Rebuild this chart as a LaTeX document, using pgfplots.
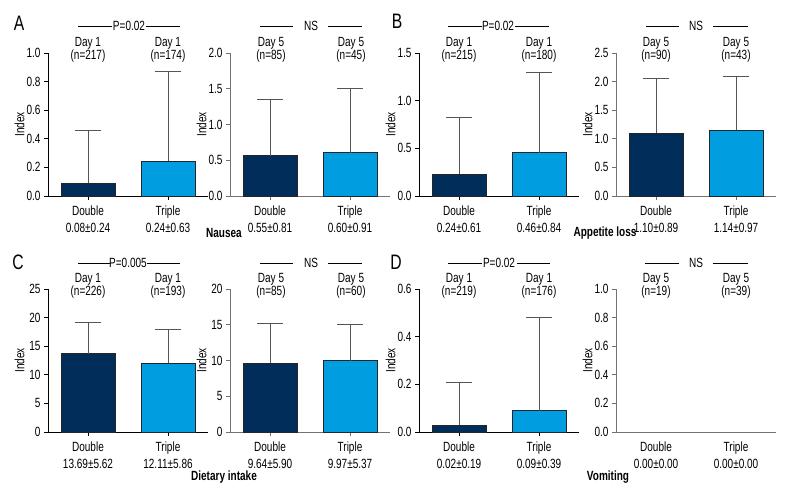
\documentclass[border=0pt]{standalone}
\usepackage{fontspec}
\setmainfont{Liberation Sans}[FakeStretch=0.75]
\usepackage{pgfplots}
\pgfplotsset{compat=1.18}

\definecolor{navy}{RGB}{0,45,90}
\definecolor{sky}{RGB}{0,158,224}
\definecolor{errc}{RGB}{85,85,85}
\newcommand\fs{\fontsize{13.4}{17.5}\selectfont}

\pgfplotsset{
  panel/.style={
    scale only axis, width=160bp, height=143bp,
    xmin=-0.5, xmax=1.5, ymin=0,
    xtick={0,1}, axis lines*=left,
    axis line style={-, line width=0.7pt, #1},
    tick style={line width=0.7pt, #1},
    tick align=outside, major tick length=4bp,
    clip=false,
    ylabel={Index},
    ylabel style={font=\fs, at={(axis description cs:-0.125,0.5)}, anchor=south},
    yticklabel style={font=\fs},
    xticklabel style={font=\fs, align=center, yshift=-2bp},
    /pgf/number format/assume math mode=true,
    /pgf/number format/.cd, fixed, fixed zerofill, precision=1,
  },
  panel/.default={black},
  bar/.style={ybar, bar width=54bp, bar shift=0pt, fill=#1, draw=black!85, line width=0.5pt,
    error bars/.cd, y dir=plus, y explicit,
    error bar style={line width=0.7pt, color=errc},
    error mark options={rotate=90, mark size=13bp, line width=0.7pt, color=errc}},
}

\begin{document}
\begin{tikzpicture}[x=1bp, y=1bp]
\useasboundingbox (0,0) rectangle (792,504);

% ---------- A ----------
\begin{axis}[panel, at={(48bp,308bp)}, anchor=south west, ymax=1.0, ytick={0,0.2,...,1.0},
  xticklabels={{Double\\0.08±0.24},{Triple\\0.24±0.63}}]
\addplot[bar=navy] coordinates {(0,0.09) +- (0,0.37)};
\addplot[bar=sky] coordinates {(1,0.245) +- (0,0.625)};
\end{axis}
\begin{axis}[panel=black!55, at={(230bp,308bp)}, anchor=south west, ymax=2.0, ytick={0,0.5,...,2.0},
  xticklabels={{Double\\0.55±0.81},{Triple\\0.60±0.91}}]
\addplot[bar=navy] coordinates {(0,0.565) +- (0,0.785)};
\addplot[bar=sky] coordinates {(1,0.605) +- (0,0.895)};
\end{axis}

% ---------- B ----------
\begin{axis}[panel, at={(419bp,308bp)}, anchor=south west, ymax=1.5, ytick={0,0.5,...,1.5},
  xticklabels={{Double\\0.24±0.61},{Triple\\0.46±0.84}}]
\addplot[bar=navy] coordinates {(0,0.23) +- (0,0.60)};
\addplot[bar=sky] coordinates {(1,0.455) +- (0,0.845)};
\end{axis}
\begin{axis}[panel=black!55, at={(616bp,308bp)}, anchor=south west, ymax=2.5, ytick={0,0.5,...,2.5},
  xticklabels={{Double\\1.10±0.89},{Triple\\1.14±0.97}}]
\addplot[bar=navy] coordinates {(0,1.10) +- (0,0.95)};
\addplot[bar=sky] coordinates {(1,1.15) +- (0,0.95)};
\end{axis}

% ---------- C ----------
\begin{axis}[panel, at={(48bp,72bp)}, anchor=south west, ymax=25, ytick={0,5,...,25},
  yticklabel style={/pgf/number format/precision=0},
  xticklabels={{Double\\13.69±5.62},{Triple\\12.11±5.86}}]
\addplot[bar=navy] coordinates {(0,13.7) +- (0,5.4)};
\addplot[bar=sky] coordinates {(1,12.1) +- (0,5.8)};
\end{axis}
\begin{axis}[panel=black!55, at={(230bp,72bp)}, anchor=south west, ymax=20, ytick={0,5,...,20},
  yticklabel style={/pgf/number format/precision=0},
  xticklabels={{Double\\9.64±5.90},{Triple\\9.97±5.37}}]
\addplot[bar=navy] coordinates {(0,9.64) +- (0,5.56)};
\addplot[bar=sky] coordinates {(1,9.97) +- (0,5.03)};
\end{axis}

% ---------- D ----------
\begin{axis}[panel, at={(419bp,72bp)}, anchor=south west, ymax=0.6, ytick={0,0.2,...,0.6},
  xticklabels={{Double\\0.02±0.19},{Triple\\0.09±0.39}}]
\addplot[bar=navy] coordinates {(0,0.03) +- (0,0.18)};
\addplot[bar=sky] coordinates {(1,0.09) +- (0,0.39)};
\end{axis}
\begin{axis}[panel=black!55, at={(616bp,72bp)}, anchor=south west, ymax=1.0, ytick={0,0.2,...,1.0},
  xtick style={draw=none},
  xticklabels={{Double\\0.00±0.00},{Triple\\0.00±0.00}}]
\end{axis}

% ---------- headers ----------
\begin{scope}[every node/.style={font=\fs, align=center}, line width=0.7pt]
% A
\draw (78,478)--(112,478); \node at (129,478) {P=0.02}; \draw (146,478)--(180,478);
\node at (88,461) {Day 1}; \node at (88,448) {(n=217)};
\node at (168,461) {Day 1}; \node at (168,448) {(n=174)};
\draw (260,478)--(293,478); \node at (311,478) {NS}; \draw (328,478)--(362,478);
\node at (271,461) {Day 5}; \node at (271,448) {(n=85)};
\node at (351,461) {Day 5}; \node at (351,448) {(n=45)};
% B
\draw (448,478)--(482,478); \node at (498,478) {P=0.02}; \draw (515,478)--(549,478);
\node at (459,461) {Day 1}; \node at (459,448) {(n=215)};
\node at (539,461) {Day 1}; \node at (539,448) {(n=180)};
\draw (646,478)--(679,478); \node at (696,478) {NS}; \draw (713,478)--(748,478);
\node at (656,461) {Day 5}; \node at (656,448) {(n=90)};
\node at (736,461) {Day 5}; \node at (736,448) {(n=43)};
% C
\draw (78,241)--(110,241); \node at (128,241) {P=0.005}; \draw (147,241)--(180,241);
\node at (88,225) {Day 1}; \node at (88,212) {(n=226)};
\node at (168,225) {Day 1}; \node at (168,212) {(n=193)};
\draw (260,241)--(293,241); \node at (311,241) {NS}; \draw (328,241)--(362,241);
\node at (271,225) {Day 5}; \node at (271,212) {(n=85)};
\node at (351,225) {Day 5}; \node at (351,212) {(n=60)};
% D
\draw (448,241)--(482,241); \node at (499,241) {P=0.02}; \draw (517,241)--(550,241);
\node at (459,225) {Day 1}; \node at (459,212) {(n=219)};
\node at (539,225) {Day 1}; \node at (539,212) {(n=176)};
\draw (645,241)--(679,241); \node at (696,241) {NS}; \draw (713,241)--(748,241);
\node at (656,225) {Day 5}; \node at (656,212) {(n=19)};
\node at (736,225) {Day 5}; \node at (736,212) {(n=39)};
% category names
\node[font=\fs\bfseries] at (224,271) {Nausea};
\node[font=\fs\bfseries] at (605,271) {Appetite loss};
\node[font=\fs\bfseries] at (224,27) {Dietary intake};
\node[font=\fs\bfseries] at (608,27) {Vomiting};
% panel letters
\node[font=\fontsize{21}{23}\selectfont] at (19,481) {A};
\node[font=\fontsize{21}{23}\selectfont] at (397,483) {B};
\node[font=\fontsize{21}{23}\selectfont] at (18,242) {C};
\node[font=\fontsize{21}{23}\selectfont] at (396,242) {D};
\end{scope}
\end{tikzpicture}
\end{document}
